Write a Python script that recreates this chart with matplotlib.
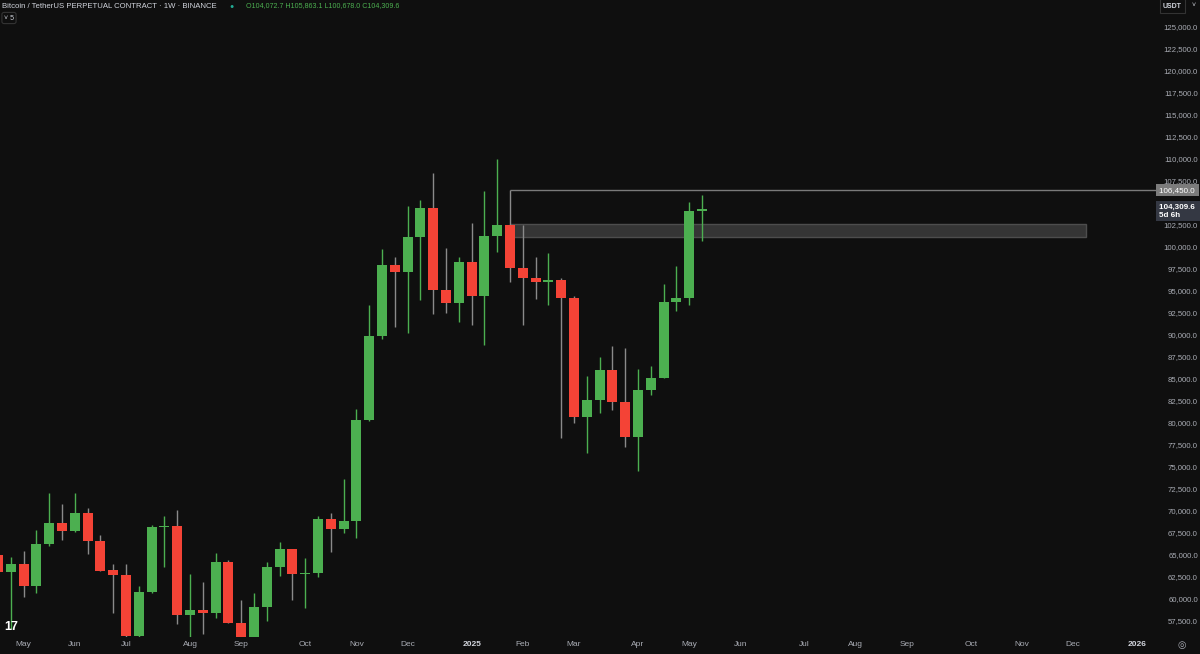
#!/usr/bin/env python3
# Weekly BTCUSDT perpetual candles (Binance, 1W) in a TradingView-like dark layout

import numpy as np
import pandas as pd
from matplotlib import pyplot as plt
from matplotlib import dates as mpdates
from matplotlib import transforms as mtransforms
from matplotlib.patches import Rectangle

# weekly candles, values
weekStarts = pd.date_range("2024-04-22", "2025-05-12", freq="7D")
opens = [64950, 63100, 64000, 61500, 66250, 68600, 67750, 69750, 66600, 63250,
         62750, 55850, 60850, 68150, 68250, 58200, 58700, 58400, 64200, 57300,
         54850, 59100, 63600, 65650, 62850, 62950, 69050, 67950, 68850, 80350,
         89900, 97950, 97150, 101150, 104450, 95100, 93650, 98300, 94450, 101250,
         102500, 97600, 96450, 96050, 96200, 94200, 80700, 82600, 86050, 82350,
         78400, 83750, 85150, 93700, 94250, 104072.7]
highs = [67200, 64750, 65500, 67800, 72100, 70800, 72100, 70300, 67300, 64000,
         63950, 61450, 68400, 69400, 70100, 62800, 61900, 65200, 64400, 59850,
         60650, 64150, 66450, 65650, 64650, 69400, 69750, 73600, 81550, 93400,
         99750, 98850, 104650, 105350, 108400, 99900, 98850, 102750, 106350, 110000,
         106450, 102500, 98850, 99300, 96500, 94400, 85350, 87500, 88750, 88500,
         86100, 86450, 95800, 97850, 105100, 105863.1]
lows = [62800, 56550, 60200, 60700, 66000, 66700, 67600, 65100, 63150, 58400,
        53500, 54250, 60700, 63650, 57150, 49000, 56050, 57850, 57250, 52550,
        54550, 57500, 62650, 59850, 58950, 62500, 65350, 67500, 66900, 80200,
        89550, 90900, 90250, 93950, 92400, 92500, 91500, 91150, 88850, 99450,
        96000, 91150, 94100, 93400, 78300, 80000, 76600, 81150, 81500, 77250,
        74500, 83200, 85100, 92750, 93400, 100678.0]
closes = [63100, 64000, 61500, 66250, 68600, 67750, 69750, 66600, 63200, 62750,
          55850, 60850, 68150, 68250, 58200, 58700, 58400, 64200, 57300, 54850,
          59100, 63600, 65650, 62850, 62950, 69050, 67950, 68850, 80350, 89900,
          97950, 97150, 101150, 104450, 95100, 93650, 98300, 94450, 101250, 102500,
          97600, 96450, 96050, 96200, 94200, 80700, 82600, 86050, 82350, 78400,
          83750, 85150, 93700, 94250, 104050, 104309.6]

# drawings on the chart
levelHigh = 106450.0
levelStart = "2025-01-27"
zoneTop = 102600.0
zoneBottom = 101150.0
zoneStart = "2025-01-27"
zoneEnd = "2025-12-08"

tickDates = ["2024-05-06", "2024-06-03", "2024-07-01", "2024-08-05", "2024-09-02", "2024-10-07",
             "2024-11-04", "2024-12-02", "2025-01-06", "2025-02-03", "2025-03-03", "2025-04-07",
             "2025-05-05", "2025-06-02", "2025-07-07", "2025-08-04", "2025-09-01", "2025-10-06",
             "2025-11-03", "2025-12-01", "2026-01-05"]
tickLabels = ["May", "Jun", "Jul", "Aug", "Sep", "Oct", "Nov", "Dec", "2025", "Feb", "Mar", "Apr",
              "May", "Jun", "Jul", "Aug", "Sep", "Oct", "Nov", "Dec", "2026"]
priceTicks = np.arange(57500, 125001, 2500)

bgColor = "#0f0f0f"
upColor = "#4caf50"
downColor = "#f44336"
textColor = "#a9acb4"

plt.rcParams["font.family"] = ["Liberation Sans", "DejaVu Sans"]

fig = plt.figure(figsize=(12, 6.54), dpi=100, facecolor=bgColor)
ax = fig.add_axes([0, 17/654, 1157/1200, 637/654])
ax.set_facecolor(bgColor)

x = mpdates.date2num(weekStarts)
o = np.array(opens)
h = np.array(highs)
l = np.array(lows)
c = np.array(closes)
isUp = c >= o
bodyColors = np.where(isUp, upColor, downColor)
wickColors = np.where(isUp, upColor, "#8a8a8a")
ax.vlines(x, l, h, colors=wickColors, linewidth=1, zorder=2)
ax.bar(x, np.maximum(np.abs(c - o), 110), width=5.4, bottom=np.minimum(o, c),
       color=bodyColors, linewidth=0, zorder=3)

# grey zone + high line
z0 = mpdates.date2num(pd.Timestamp(zoneStart))
z1 = mpdates.date2num(pd.Timestamp(zoneEnd))
ax.add_patch(Rectangle((z0, zoneBottom), z1 - z0, zoneTop - zoneBottom,
                       facecolor="#353535", edgecolor="#4d4d4d", linewidth=1, zorder=1))

anchor = mpdates.date2num(pd.Timestamp("2025-03-03"))
xLeft = anchor - 313.9
xRight = anchor + 318.8
ax.hlines(levelHigh, mpdates.date2num(pd.Timestamp(levelStart)), xRight, colors="#7a7a7a", linewidth=1, zorder=1.5)

ax.set_xlim(xLeft, xRight)
ax.set_ylim(55682, 128068)

for s in ax.spines.values():
    s.set_visible(False)

ax.yaxis.tick_right()
ax.set_yticks(priceTicks)
ax.set_yticklabels([f"{v:,.1f}" for v in priceTicks])
ax.tick_params(axis="y", length=0, pad=29.5, labelsize=5.6, labelcolor=textColor)
for lbl in ax.get_yticklabels():
    lbl.set_horizontalalignment("right")

ax.set_xticks(mpdates.date2num(pd.to_datetime(tickDates)))
ax.set_xticklabels(tickLabels)
ax.tick_params(axis="x", length=0, pad=3, labelsize=6, labelcolor=textColor)
for lbl in ax.get_xticklabels():
    if lbl.get_text().isdigit():
        lbl.set_fontweight("bold")
        lbl.set_color("#d1d4dc")

# price labels on the scale
trans = mtransforms.blended_transform_factory(ax.transAxes, ax.transData)
ax.text(1.0015, levelHigh, "106,450.0 ", transform=trans, ha="left", va="center", fontsize=5.8,
        color="white", clip_on=False, zorder=10,
        bbox=dict(boxstyle="square,pad=0.3", facecolor="#7b7b7b", edgecolor="none"))
ax.text(1.0015, c[-1] - 250, "104,309.6  \n5d 6h", transform=trans, ha="left", va="center", fontsize=5.8,
        color="white", fontweight="bold", linespacing=1.15, clip_on=False, zorder=10,
        bbox=dict(boxstyle="square,pad=0.3", facecolor="#343843", edgecolor="none"))

# header
fig.text(2/1200, 1 - 6/654, "Bitcoin / TetherUS PERPETUAL CONTRACT · 1W · BINANCE", fontsize=5.6,
         color="#d1d4dc", va="center", ha="left")
fig.text(229/1200, 1 - 6/654, "●", fontsize=5, color="#22ab94", va="center", ha="left")
fig.text(246/1200, 1 - 6/654, "O104,072.7 H105,863.1 L100,678.0 C104,309.6", fontsize=5.1,
         color=upColor, va="center", ha="left")
fig.text(4/1200, 1 - 18/654, "˅ 5", fontsize=5, color="#d1d4dc", va="center", ha="left",
         bbox=dict(boxstyle="round,pad=0.3", facecolor=bgColor, edgecolor="#333333", linewidth=0.8))
fig.text(1163/1200, 1 - 6/654, "USDT", fontsize=5, color="#d1d4dc", va="center", ha="left",
         fontweight="bold",
         bbox=dict(boxstyle="square,pad=0.5", facecolor=bgColor, edgecolor="#333333", linewidth=0.8))
fig.text(1194/1200, 1 - 6/654, "˅", fontsize=5, color="#d1d4dc", va="center", ha="center")

# logo + settings icon
fig.text(4/1200, 1 - 627/654, "17", fontsize=9, fontweight="heavy", color="white", va="center", ha="left")
fig.text(1182/1200, 1 - 645/654, "◎", fontsize=7, color=textColor, va="center", ha="center",
         family="DejaVu Sans")

fig.savefig("out.png", dpi=100, facecolor=bgColor)
